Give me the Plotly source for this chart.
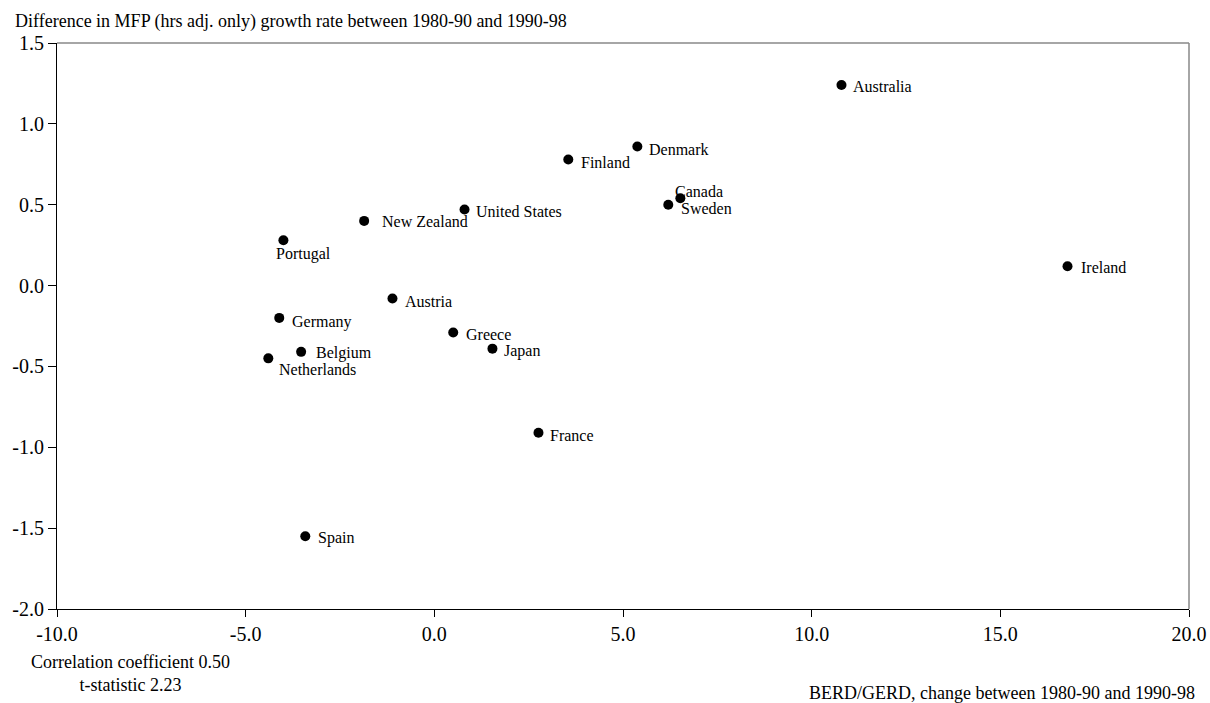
import plotly.graph_objects as go

countries = ["Australia", "Denmark", "Finland", "Canada", "Sweden", "United States",
             "New Zealand", "Portugal", "Ireland", "Austria", "Germany", "Greece",
             "Belgium", "Netherlands", "Japan", "France", "Spain"]
berd_change = [10.79, 5.38, 3.55, 6.52, 6.20, 0.80, -1.86, -4.00, 16.78, -1.11,
               -4.11, 0.50, -3.53, -4.40, 1.54, 2.76, -3.42]
mfp_diff = [1.24, 0.86, 0.78, 0.54, 0.50, 0.47, 0.40, 0.28, 0.12, -0.08,
            -0.20, -0.29, -0.41, -0.45, -0.39, -0.91, -1.55]

x_ticks = [-10, -5, 0, 5, 10, 15, 20]
y_ticks = [-2.0, -1.5, -1.0, -0.5, 0.0, 0.5, 1.0, 1.5]

# label offsets in pixels (xshift, yshift)
label_offsets = {
    "Australia": (10, -1), "Denmark": (10, -3), "Finland": (11, -3),
    "Canada": (-7, 7), "Sweden": (11, -4), "United States": (9, -2),
    "New Zealand": (16, -1), "Portugal": (-9, -14), "Ireland": (11, -1),
    "Austria": (11, -3), "Germany": (11, -4), "Greece": (11, -2),
    "Belgium": (13, -1), "Netherlands": (9, -11), "Japan": (10, -2),
    "France": (10, -3), "Spain": (11, -2),
}

FONT = "Liberation Serif"

fig = go.Figure()
fig.add_trace(go.Scatter(
    x=berd_change, y=mfp_diff, mode="markers",
    marker=dict(color="black", size=10),
    hovertext=countries, showlegend=False,
))

for c, xv, yv in zip(countries, berd_change, mfp_diff):
    xs, ys = label_offsets.get(c, (10, -2))
    fig.add_annotation(x=xv, y=yv, text=c, showarrow=False, xanchor="left",
                       yanchor="middle", xshift=xs, yshift=ys,
                       font=dict(family=FONT, size=16, color="black"))

PW = 1132.0
fig.add_annotation(xref="paper", yref="paper", x=-44 / PW, y=1.0, yshift=22,
                   text="Difference in MFP (hrs adj. only) growth rate between 1980-90 and 1990-98",
                   showarrow=False, xanchor="left", yanchor="middle",
                   font=dict(family=FONT, size=18, color="black"))
fig.add_annotation(xref="paper", yref="paper", x=1 + 8 / PW, y=0, yshift=-84,
                   text="BERD/GERD, change between 1980-90 and 1990-98",
                   showarrow=False, xanchor="right", yanchor="middle",
                   font=dict(family=FONT, size=18, color="black"))
fig.add_annotation(xref="paper", yref="paper", x=73 / PW, y=0, yshift=-64,
                   text="Correlation coefficient 0.50<br>t-statistic 2.23",
                   showarrow=False, xanchor="center", yanchor="middle", align="center",
                   font=dict(family=FONT, size=18, color="black"))

fig.update_xaxes(range=[-10, 20], tickvals=x_ticks,
                 ticktext=[f"{v:.1f}" for v in x_ticks], automargin=False,
                 showgrid=False, zeroline=False, showline=True, linecolor="black",
                 linewidth=1, ticks="outside", ticklen=7, tickcolor="black",
                 tickfont=dict(family=FONT, size=20, color="black"))
fig.update_yaxes(range=[-2.0, 1.5], tickvals=y_ticks,
                 ticktext=[f"{v:.1f}" for v in y_ticks], automargin=False,
                 showgrid=False, zeroline=False, showline=True, linecolor="black",
                 linewidth=1, ticks="outside", ticklen=8, tickcolor="black",
                 tickfont=dict(family=FONT, size=20, color="black"))

fig.add_shape(type="line", xref="paper", yref="paper", x0=0, x1=1, y0=1, y1=1,
              line=dict(color="#888888", width=1.5))
fig.add_shape(type="line", xref="paper", yref="paper", x0=1, x1=1, y0=0, y1=1,
              line=dict(color="#888888", width=1.5))

fig.update_layout(width=1210, height=703, margin=dict(l=57, r=21, t=43, b=94),
                  plot_bgcolor="white", paper_bgcolor="white",
                  font=dict(family=FONT, color="black"))

fig.write_html("out.html", config={"displayModeBar": False},
               post_script="document.body.style.margin='0';document.body.style.overflow='hidden';")
